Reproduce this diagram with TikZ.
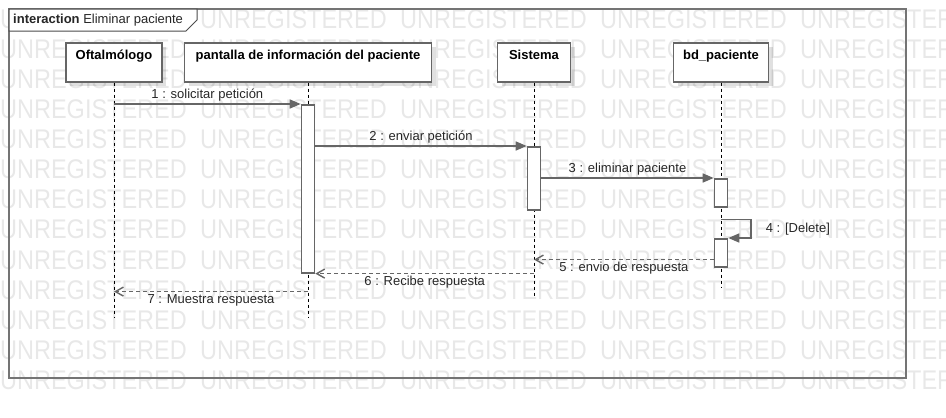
\documentclass[tikz,border=0pt]{standalone}
\usepackage{fontspec}
\usepackage{graphicx}
\setmainfont{Liberation Sans}
\usetikzlibrary{positioning,arrows.meta,calc,shadows}
\definecolor{linegray}{HTML}{666666}
\definecolor{framegray}{HTML}{747474}
\tikzset{
  lifebox/.style  = {shape=rectangle, draw=linegray, line width=1.6pt, fill=white,
                     anchor=north, minimum height=39pt, inner xsep=2pt, inner ysep=3.5pt,
                     text height=13pt, text depth=19pt,
                     font=\fontsize{13}{15}\selectfont\bfseries,
                     drop shadow={shadow xshift=4pt, shadow yshift=-4pt, opacity=.12, fill=black}},
  act/.style      = {shape=rectangle, draw=linegray, line width=1.6pt, fill=white,
                     anchor=north, minimum width=13pt, inner sep=0pt},
  lifeline/.style = {draw=black, line width=0.9pt, dash pattern=on 3pt off 3pt},
  msg/.style      = {draw=linegray, line width=1.6pt, -{Triangle[length=11pt,width=9pt]}},
  reply/.style    = {draw=linegray, line width=1.4pt, dash pattern=on 4pt off 3pt,
                     -{Straight Barb[length=8pt,width=9pt]}},
  msgtext/.style  = {font=\fontsize{13}{15}\selectfont, text=black!85, inner sep=2pt},
  watermark/.style= {font=\fontsize{27}{27}\selectfont, text=black!9, anchor=west, inner sep=0pt}
}

\begin{document}
\begin{tikzpicture}
  [
    x = 1pt,
    y = -1pt
  ]
  \useasboundingbox (0,0) rectangle (946,418);
  \foreach \row in {0,...,12}
    \foreach \col in {0,...,4}
      \node [watermark] (wm-\row-\col) at (200*\col, 19+30.1*\row) {\scalebox{.87}[1]{UNREGISTERED}};

  % frame
  \draw [framegray, line width=2pt] (9,9) rectangle (906,378);
  \draw [black!70, line width=1pt, fill=white] (9,9) -- (197,9) -- (197,20) -- (186,31) -- (9,31) -- cycle;
  \node [msgtext, anchor=west] (title) at (11,20) {\textbf{interaction} Eliminar paciente};

  \node [lifebox, minimum width=96pt] (oft) at (114,42) {Oftalmólogo};
  \node [lifebox, minimum width=247pt] (pan) at (308,42) {pantalla de información del paciente};
  \node [lifebox, minimum width=73pt] (sis) at (534,42) {Sistema};
  \node [lifebox, minimum width=95pt] (bd) at (721,42) {bd\_paciente};

  \coordinate (oft-end) at (oft.south |- 0,318);
  \coordinate (pan-end) at (pan.south |- 0,318);
  \coordinate (sis-end) at (sis.south |- 0,298);
  \coordinate (bd-end) at (bd.south |- 0,287);
  \draw [lifeline] (oft) -- (oft-end);
  \draw [lifeline] (pan) -- (pan-end);
  \draw [lifeline] (sis) -- (sis-end);
  \draw [lifeline] (bd) -- (bd-end);

  \node [act, minimum height=168pt] (pan-act) at (pan.south |- 0,104) {};
  \node [act, minimum height=63pt] (sis-act) at (sis.south |- 0,146) {};
  \node [act, minimum height=28pt] (bd-act1) at (bd.south |- 0,178) {};
  \node [act, minimum height=28pt] (bd-act2) at (bd.south |- 0,238) {};

  % messages
  \draw [msg] (oft |- pan-act.north) -- (pan-act.north west)
    node [msgtext, midway, above] {1 : solicitar petición};
  \draw [msg] (pan-act.east |- sis-act.north) -- (sis-act.north west)
    node [msgtext, midway, above] {2 : enviar petición};
  \draw [msg] (sis-act.east |- bd-act1.north) -- (bd-act1.north west)
    node [msgtext, midway, above] {3 : eliminar paciente};
  \coordinate (del-from) at ($(bd-act1.south)+(0,12)$);
  \draw [msg] (del-from) -- ++(30,0) |- (bd-act2.north east)
    node [msgtext, pos=.25, right=12pt] {4 : [Delete]};
  \coordinate (r5) at ($(bd-act2.south west)+(0,-8)$);
  \draw [reply] (r5) -- (sis |- r5)
    node [msgtext, midway, below] {5 : envio de respuesta};
  \draw [reply] (sis |- pan-act.south) -- (pan-act.south east)
    node [msgtext, midway, below] {6 : Recibe respuesta};
  \coordinate (r7) at ($(pan-act.south)+(0,18)$);
  \draw [reply] (r7) -- (oft |- r7)
    node [msgtext, midway, below] {7 : Muestra respuesta};
\end{tikzpicture}
\end{document}
